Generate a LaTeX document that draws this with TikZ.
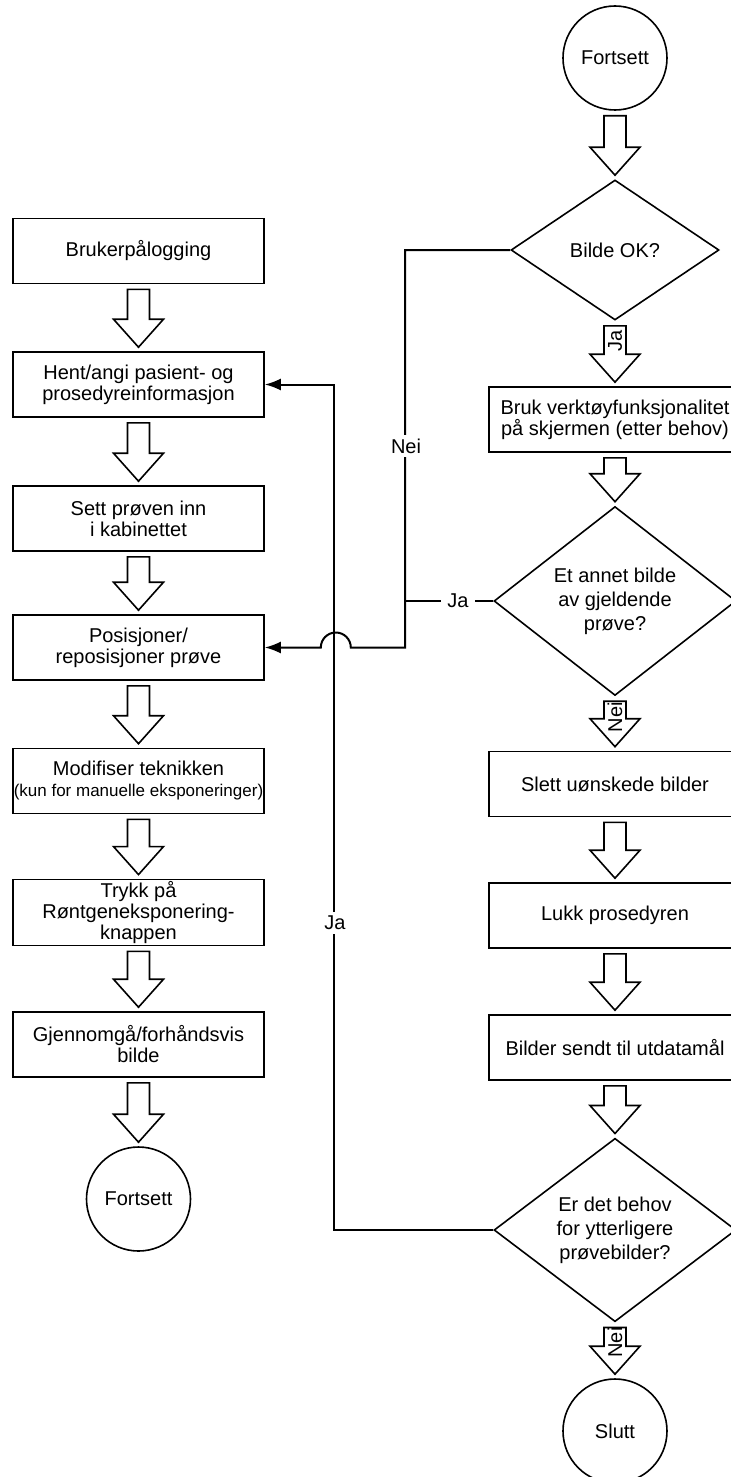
\documentclass[tikz,border=0pt]{standalone}
\usepackage{fontspec}
\setmainfont{Liberation Sans}
\usetikzlibrary{arrows.meta,calc,math,shapes.geometric}

\tikzset{
  stepbox/.style={draw,line width=0.8pt,minimum width=125.5pt,minimum height=32.5pt,
    inner sep=1pt,align=center,font=\fontsize{10}{10.5}\selectfont},
  decision/.style={draw,diamond,line width=0.8pt,inner sep=0pt,align=center,
    font=\fontsize{10}{12}\selectfont},
  terminal/.style={draw,circle,line width=0.8pt,minimum size=52pt,inner sep=0pt,
    font=\fontsize{10}{12}\selectfont},
  blockarr/.style={line width=0.8pt,fill=white,line join=miter},
  armlabel/.style={rotate=90,inner sep=0pt,font=\fontsize{10}{12}\selectfont},
  flowline/.style={line width=1pt,-{Latex[length=8pt,width=6pt]}},
  edgelabel/.style={fill=white,inner xsep=3pt,inner ysep=2pt,font=\fontsize{10}{12}\selectfont},
}

% hollow block arrow from one node down to the next
\newcommand{\flowarrow}[2]{%
  \draw[blockarr] let \p1=($(#1.south)+(0pt,-2.5pt)$), \p2=($(#2.north)+(0pt,2pt)$) in
    (\x1-5.5pt,\y1) -- (\x1+5.5pt,\y1) -- (\x1+5.5pt,\y2+14pt) -- (\x1+12.5pt,\y2+14pt)
    -- (\x1,\y2) -- (\x1-12.5pt,\y2+14pt) -- (\x1-5.5pt,\y2+14pt) -- cycle;}

\begin{document}
\begin{tikzpicture}[x=0.5pt,y=-0.5pt]
\tikzmath{
\xl=138.5;
\xr=615;
}
\useasboundingbox (0,0) rectangle (731,1477);

%%%%%%%%%%   left column
\node[stepbox] (login) at (\xl,251) {Brukerpålogging};
\node[stepbox] (hent) at (\xl,384.5) {Hent/angi pasient- og\\prosedyreinformasjon};
\node[stepbox] (sett) at (\xl,518.5) {Sett prøven inn\\i kabinettet};
\node[stepbox] (posisjon) at (\xl,647.5) {Posisjoner/\\reposisjoner prøve};
\node[stepbox,inner xsep=0pt] (modif) at (\xl,781) {Modifiser teknikken\\{\fontsize{8.5}{10}\selectfont(kun for manuelle eksponeringer)}};
\node[stepbox] (trykk) at (\xl,912.5) {Trykk på\\Røntgeneksponering-\\knappen};
\node[stepbox] (gjen) at (\xl,1044.5) {Gjennomgå/forhåndsvis\\bilde};
\node[terminal] (fortsA) at (\xl,1199) {Fortsett};

\flowarrow{login}{hent}
\flowarrow{hent}{sett}
\flowarrow{sett}{posisjon}
\flowarrow{posisjon}{modif}
\flowarrow{modif}{trykk}
\flowarrow{trykk}{gjen}
\flowarrow{gjen}{fortsA}

%%%%%%%%%%   right column
\node[terminal] (fortsB) at (\xr,58) {Fortsett};
\node[decision,minimum width=104pt,minimum height=70pt] (bildeok) at (\xr,250) {Bilde OK?};
\node[stepbox,minimum width=126pt] (bruk) at (\xr,419.5) {Bruk verktøyfunksjonalitet\\på skjermen (etter behov)};
\node[decision,minimum width=121pt,minimum height=82pt] (annet) at (\xr,601) {Et annet bilde\\av gjeldende\\prøve?};
\node[stepbox,minimum width=126pt] (slett) at (\xr,784) {Slett uønskede bilder};
\node[stepbox,minimum width=126pt] (lukk) at (\xr,915.5) {Lukk prosedyren};
\node[stepbox,minimum width=126pt] (sendt) at (\xr,1047.5) {Bilder sendt til utdatamål};
\node[decision,minimum width=121pt,minimum height=82pt] (behov) at (\xr,1230) {Er det behov\\for ytterligere\\prøvebilder?};
\node[terminal] (slutt) at (\xr,1431) {Slutt};

\flowarrow{fortsB}{bildeok}
\flowarrow{bildeok}{bruk}
\node[armlabel] (jaOK) at ($(bildeok.south)+(0,20)$) {Ja};
\flowarrow{bruk}{annet}
\flowarrow{annet}{slett}
\node[armlabel] (neiAnnet) at ($(annet.south)+(0,21)$) {Nei};
\flowarrow{slett}{lukk}
\flowarrow{lukk}{sendt}
\flowarrow{sendt}{behov}
\flowarrow{behov}{slutt}
\node[armlabel] (neiBehov) at ($(behov.south)+(0,20)$) {Nei};

%%%%%%%%%%   loops back
\draw[flowline] (behov.west) -- ++(-159.5,0) |- (hent.east);
\draw[flowline] (bildeok.west) -- ++(-105,0) |- ($(posisjon.east)+(86,0)$)
  arc[start angle=0,end angle=180,radius=7.5pt] -- (posisjon.east);
\draw[line width=1pt] (annet.west) -- ++(-88,0) coordinate (jn);
\node[edgelabel] (neiLbl) at (406,446) {Nei};
\node[edgelabel] (jaLbl) at (458,601) {Ja};
\node[edgelabel] (jaBack) at (335,923) {Ja};
\end{tikzpicture}
\end{document}
